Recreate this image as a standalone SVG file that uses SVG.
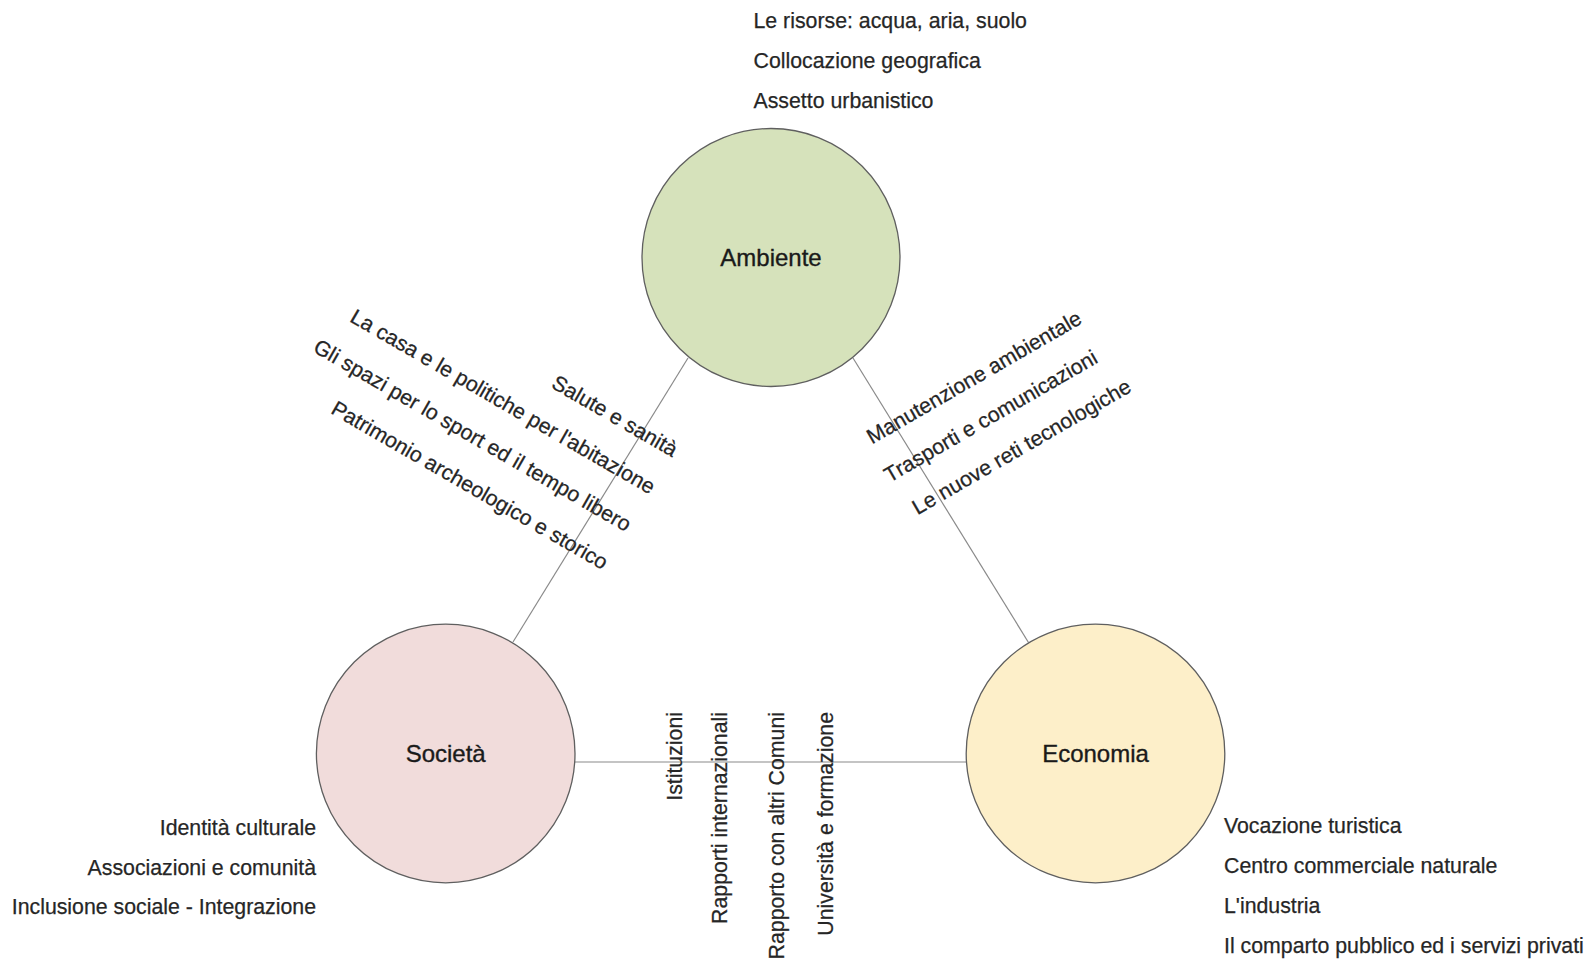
<svg xmlns="http://www.w3.org/2000/svg" width="1592" height="959" viewBox="0 0 1592 959">
<style>
  .bg{fill:#ffffff}
  .node{stroke:#5f5f5f;stroke-width:1.3}
  .lbl{font-family:"Liberation Sans",Arial,sans-serif;font-size:24px;fill:#1a1a1a;stroke:#1a1a1a;stroke-width:0.35;text-anchor:middle}
  .t{font-family:"Liberation Sans",Arial,sans-serif;font-size:21.3px;fill:#262626;stroke:#262626;stroke-width:0.25}
  .e{text-anchor:end}
  .conn line{stroke:#8a8a8a;stroke-width:1.2}
</style>
<rect class="bg" x="0" y="0" width="1592" height="959"/>
<g id="connectors" class="conn">
  <line x1="688" y1="358" x2="513" y2="642"/>
  <line x1="853" y1="358" x2="1028.5" y2="642.5"/>
  <line x1="575" y1="762" x2="967" y2="762"/>
</g>
<g id="node-ambiente">
  <circle class="node" cx="771" cy="257.5" r="129" fill="#d6e2bb"/>
  <text class="lbl" x="771" y="265.5">Ambiente</text>
</g>
<g id="node-societa">
  <circle class="node" cx="445.7" cy="753.5" r="129.3" fill="#f1dcdb"/>
  <text class="lbl" x="445.7" y="761.5">Società</text>
</g>
<g id="node-economia">
  <circle class="node" cx="1095.5" cy="753.5" r="129.3" fill="#fdefc9"/>
  <text class="lbl" x="1095.5" y="761.5">Economia</text>
</g>
<g id="list-ambiente">
  <text class="t" x="753.5" y="28">Le risorse: acqua, aria, suolo</text>
  <text class="t" x="753.5" y="68">Collocazione geografica</text>
  <text class="t" x="753.5" y="108">Assetto urbanistico</text>
</g>
<g id="list-societa">
  <text class="t e" x="316" y="835">Identità culturale</text>
  <text class="t e" x="316" y="875">Associazioni e comunità</text>
  <text class="t e" x="316" y="914">Inclusione sociale - Integrazione</text>
</g>
<g id="list-economia">
  <text class="t" x="1224" y="833">Vocazione turistica</text>
  <text class="t" x="1224" y="873">Centro commerciale naturale</text>
  <text class="t" x="1224" y="913">L'industria</text>
  <text class="t" x="1224" y="953">Il comparto pubblico ed i servizi privati</text>
</g>
<g id="list-ambiente-societa">
  <text class="t e" transform="translate(672.3 457.5) rotate(30)">Salute e sanità</text>
  <text class="t e" transform="translate(649.7 494.6) rotate(30)">La casa e le politiche per l'abitazione</text>
  <text class="t e" transform="translate(625.7 532.2) rotate(30)">Gli spazi per lo sport ed il tempo libero</text>
  <text class="t e" transform="translate(602.5 570.2) rotate(30)">Patrimonio archeologico e storico</text>
</g>
<g id="list-ambiente-economia">
  <text class="t" transform="translate(872.1 444.5) rotate(-30)">Manutenzione ambientale</text>
  <text class="t" transform="translate(889.6 482.9) rotate(-30)">Trasporti e comunicazioni</text>
  <text class="t" transform="translate(917.5 515.2) rotate(-30)">Le nuove reti tecnologiche</text>
</g>
<g id="list-societa-economia">
  <text class="t e" transform="translate(682 712) rotate(-90)">Istituzioni</text>
  <text class="t e" transform="translate(727 712) rotate(-90)">Rapporti internazionali</text>
  <text class="t e" transform="translate(784 712) rotate(-90)">Rapporto con altri Comuni</text>
  <text class="t e" transform="translate(833 712) rotate(-90)">Università e formazione</text>
</g>
</svg>
